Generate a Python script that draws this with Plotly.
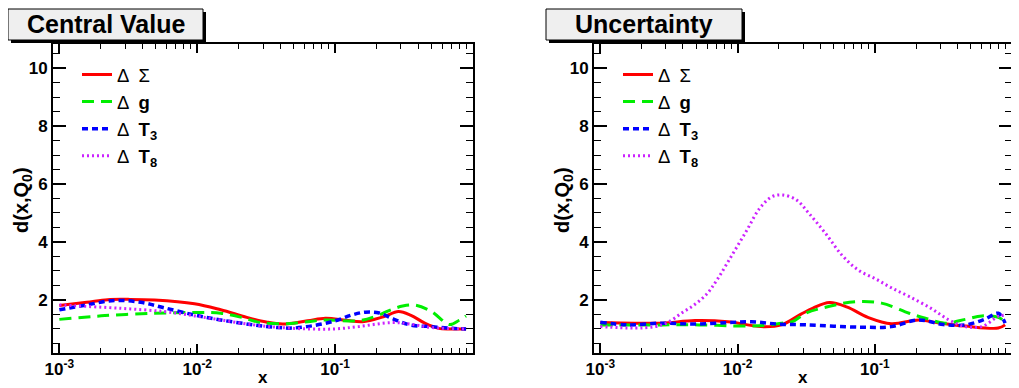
import plotly.graph_objects as go

# ---------------- data ----------------
# Left panel: "Central Value"
cv_sigma_x = [0.001, 0.00158, 0.00224, 0.00316, 0.0049, 0.00955, 0.0148, 0.0229, 0.0316, 0.0417,
              0.0631, 0.0851, 0.12, 0.158, 0.224, 0.288, 0.355, 0.447, 0.562, 0.708, 0.891]
cv_sigma_y = [1.81, 1.92, 2.01, 2.02, 2.00, 1.87, 1.66, 1.40, 1.24, 1.17,
              1.28, 1.37, 1.30, 1.25, 1.42, 1.60, 1.47, 1.20, 1.02, 1.00, 1.00]

cv_g_x = [0.001, 0.00214, 0.0049, 0.00955, 0.0148, 0.0209, 0.0288, 0.0437, 0.0631, 0.0851,
          0.148, 0.2, 0.251, 0.309, 0.38, 0.501, 0.676, 0.794, 0.891]
cv_g_y = [1.33, 1.46, 1.54, 1.57, 1.54, 1.40, 1.22, 1.18, 1.25, 1.31,
          1.28, 1.45, 1.65, 1.79, 1.82, 1.60, 1.15, 1.30, 1.45]

cv_t3_x = [0.001, 0.00158, 0.00251, 0.00389, 0.00575, 0.00955, 0.0148, 0.0257, 0.038, 0.049,
           0.0708, 0.1, 0.132, 0.166, 0.209, 0.263, 0.347, 0.501, 0.708, 0.891]
cv_t3_y = [1.66, 1.83, 1.98, 1.92, 1.73, 1.48, 1.31, 1.14, 1.05, 1.03,
           1.12, 1.28, 1.48, 1.58, 1.55, 1.35, 1.14, 1.08, 1.02, 1.00]

cv_t8_x = [0.001, 0.00129, 0.00282, 0.00575, 0.00955, 0.0148, 0.0257, 0.0398, 0.0646, 0.1,
           0.148, 0.257, 0.347, 0.501, 0.891]
cv_t8_y = [1.83, 1.80, 1.71, 1.60, 1.45, 1.31, 1.14, 1.05, 1.00, 1.00,
           1.08, 1.22, 1.17, 1.05, 1.00]

# Right panel: "Uncertainty"
un_sigma_x = [0.001, 0.00178, 0.00282, 0.0049, 0.00851, 0.0148, 0.0209, 0.0288, 0.0355, 0.0468,
              0.0631, 0.0891, 0.132, 0.209, 0.282, 0.457, 0.794, 0.891]
un_sigma_y = [1.22, 1.20, 1.20, 1.29, 1.25, 1.08, 1.14, 1.50, 1.72, 1.91,
              1.75, 1.40, 1.18, 1.31, 1.22, 1.10, 1.03, 1.14]

un_g_x = [0.001, 0.00282, 0.00525, 0.011, 0.0158, 0.0209, 0.0251, 0.0316, 0.0468, 0.0724,
          0.112, 0.178, 0.234, 0.324, 0.457, 0.603, 0.794, 0.891]
un_g_y = [1.14, 1.14, 1.14, 1.10, 1.12, 1.20, 1.25, 1.55, 1.78, 1.94,
          1.89, 1.54, 1.37, 1.20, 1.33, 1.45, 1.40, 1.25]

un_t3_x = [0.001, 0.00158, 0.00282, 0.0049, 0.00851, 0.0126, 0.0195, 0.0316, 0.0794, 0.132,
           0.209, 0.316, 0.457, 0.631, 0.794, 0.891]
un_t3_y = [1.23, 1.14, 1.20, 1.17, 1.22, 1.25, 1.17, 1.14, 1.06, 1.08,
           1.31, 1.15, 1.14, 1.33, 1.54, 1.20]

un_t8_x = [0.001, 0.00178, 0.00251, 0.00309, 0.00389, 0.0049, 0.00603, 0.00708, 0.00912, 0.0117,
           0.0145, 0.0178, 0.0214, 0.0269, 0.0331, 0.0437, 0.0575, 0.0759, 0.102, 0.132,
           0.178, 0.257, 0.347, 0.457, 0.603, 0.794, 0.891]
un_t8_y = [1.08, 1.03, 1.08, 1.22, 1.54, 1.85, 2.23, 2.69, 3.55, 4.41,
           5.16, 5.56, 5.62, 5.45, 4.99, 4.30, 3.55, 3.03, 2.72, 2.42,
           2.12, 1.71, 1.31, 1.08, 1.08, 1.43, 1.48]

series_names = ["Δ\u2002Σ", "Δ\u2002<b>g</b>", "Δ\u2002<b>T<sub>3</sub></b>", "Δ\u2002<b>T<sub>8</sub></b>"]
panel_titles = ["Central Value", "Uncertainty"]
x_title = "<b>x</b>"
y_title = "<b>d(x,Q<sub>0</sub>)</b>"
major_x = [0.001, 0.01, 0.1]
major_x_text = ["10<sup>-3</sup>", "10<sup>-2</sup>", "10<sup>-1</sup>"]
minor_x = [m * d for d in (0.001, 0.01, 0.1) for m in range(2, 10)]
major_y = [2, 4, 6, 8, 10]

# ---------------- styling ----------------
# The html page body has an 8px margin; the figure is sized and positioned so that
# screen pixel coordinates of the reference map directly via xp()/yp().
OFF = 8
SW, SH = 1019, 388
W, H = SW - OFF, SH - OFF
FONT = "Liberation Sans"
styles = [
    dict(color="#ff0000", width=3, dash="solid"),
    dict(color="#00ee00", width=3, dash="12px,7px"),
    dict(color="#0000ff", width=3.5, dash="6px,4px"),
    dict(color="#cc22ff", width=3, dash="2px,3px"),
]

def xp(px):
    return (px - OFF) / W

def yp(py):
    return 1 - (py - OFF) / H

fig = go.Figure()

panels = [
    [(cv_sigma_x, cv_sigma_y), (cv_g_x, cv_g_y), (cv_t3_x, cv_t3_y), (cv_t8_x, cv_t8_y)],
    [(un_sigma_x, un_sigma_y), (un_g_x, un_g_y), (un_t3_x, un_t3_y), (un_t8_x, un_t8_y)],
]
for p, series in enumerate(panels):
    for i, (xs, ys) in enumerate(series):
        fig.add_trace(go.Scatter(
            x=xs, y=ys, mode="lines", name=series_names[i],
            line=dict(shape="spline", smoothing=1.0, **styles[i]),
            xaxis="x" if p == 0 else "x2", yaxis="y" if p == 0 else "y2",
            legend="legend" if p == 0 else "legend2",
        ))

tickfont = dict(family=FONT, size=17, color="black", weight="bold")

def xaxis_cfg(domain, anchor):
    return dict(
        type="log", range=[-3.046, 0.0], domain=domain, anchor=anchor, automargin=False,
        showline=True, linecolor="black", linewidth=2, mirror="allticks",
        ticks="inside", ticklen=9, tickwidth=1.5, tickcolor="black",
        tickvals=major_x, ticktext=major_x_text, tickfont=tickfont,
        minor=dict(tickvals=minor_x, ticks="inside", ticklen=5, tickwidth=1, tickcolor="black", showgrid=False),
        showgrid=False, zeroline=False,
    )

def yaxis_cfg(anchor):
    return dict(
        range=[0.17, 10.83], domain=[yp(353), yp(44)], anchor=anchor, automargin=False,
        showline=True, linecolor="black", linewidth=2, mirror="allticks",
        ticks="inside", ticklen=13, tickwidth=1.5, tickcolor="black",
        tickvals=major_y, tickfont=tickfont,
        minor=dict(dtick=0.5, tick0=0, ticks="inside", ticklen=7, tickwidth=1, tickcolor="black", showgrid=False),
        showgrid=False, zeroline=False,
    )

legend_common = dict(
    font=dict(family=FONT, size=18.5, color="black"), bgcolor="rgba(0,0,0,0)",
    borderwidth=0, xanchor="left", yanchor="top", tracegroupgap=0, itemclick=False,
)

plot_x = [(53, 473), (594, 1012)]

fig.update_layout(
    width=W, height=H, margin=dict(l=0, r=0, t=0, b=0, autoexpand=False),
    paper_bgcolor="white", plot_bgcolor="white",
    xaxis=xaxis_cfg([xp(plot_x[0][0]), xp(plot_x[0][1])], "y"),
    yaxis=yaxis_cfg("x"),
    xaxis2=xaxis_cfg([xp(plot_x[1][0]), xp(plot_x[1][1])], "y2"),
    yaxis2=yaxis_cfg("x2"),
    legend=dict(x=xp(77), y=yp(56), **legend_common),
    legend2=dict(x=xp(618), y=yp(56), **legend_common),
    font=dict(family=FONT, color="black"),
    showlegend=True,
)

# axis titles
for (x0, x1) in plot_x:
    fig.add_annotation(xref="paper", yref="paper", x=xp((x0 + x1) / 2), y=yp(377),
                       text=x_title, showarrow=False, xanchor="center", yanchor="middle",
                       font=dict(family=FONT, size=17, color="black"))
    fig.add_annotation(xref="paper", yref="paper", x=xp(x0 - 31), y=yp(200),
                       text=y_title, showarrow=False, textangle=-90,
                       xanchor="center", yanchor="middle",
                       font=dict(family=FONT, size=20, color="black"))

# Title boxes with drop shadow
boxes = [(8, 9, 203, 40), (546, 9, 742, 40)]
for (x0, y0, x1, y1), title in zip(boxes, panel_titles):
    fig.add_shape(type="rect", xref="paper", yref="paper",
                  x0=xp(x0 + 3), x1=xp(x1 + 3), y0=yp(y0 + 3), y1=yp(y1 + 3),
                  fillcolor="black", line=dict(width=0))
    fig.add_shape(type="rect", xref="paper", yref="paper",
                  x0=xp(x0), x1=xp(x1), y0=yp(y0), y1=yp(y1),
                  fillcolor="#efefef", line=dict(color="black", width=1))
    fig.add_annotation(xref="paper", yref="paper", x=xp((x0 + x1) / 2), y=yp((y0 + y1) / 2),
                       text=f"<b>{title}</b>", showarrow=False,
                       font=dict(family=FONT, size=25, color="black"),
                       xanchor="center", yanchor="middle")

fig.write_html("out.html")
